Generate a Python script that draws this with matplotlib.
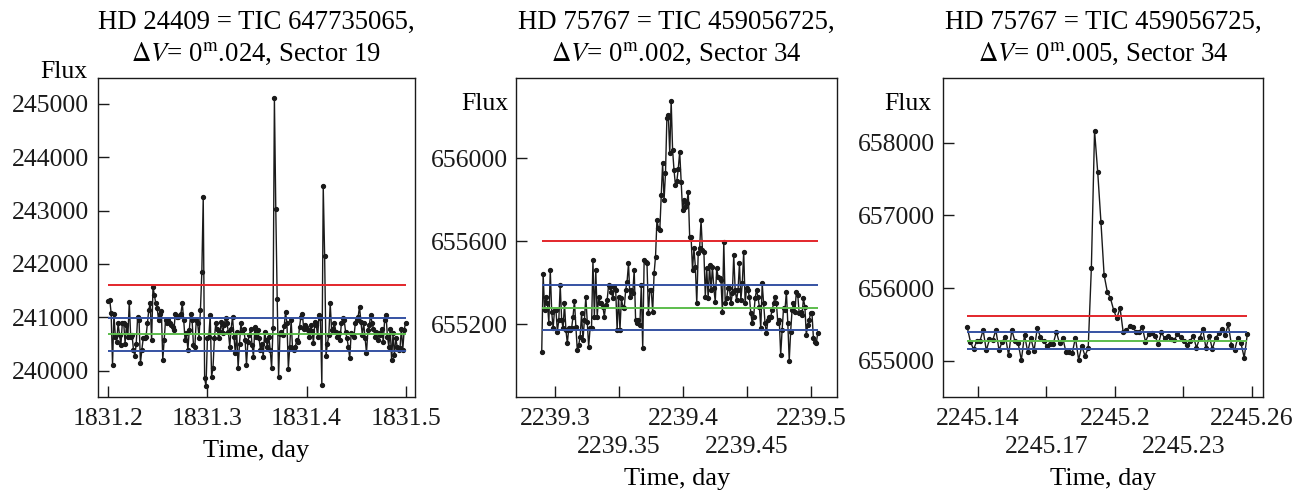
import matplotlib
matplotlib.use("Agg")
import matplotlib.pyplot as plt
import numpy as np

plt.rcParams["font.family"] = ["Liberation Serif", "DejaVu Serif"]
plt.rcParams["mathtext.fontset"] = "stix"

# --- Panel 1: HD 24409, Sector 19 ---
t1_range = (1831.2007, 1831.4995)
flux1 = [
    241310, 241330, 241080, 240110, 241060, 240640, 240540, 240890, 240670, 240480,
    240890, 240900, 240510, 240860, 240640, 241290, 240640, 240670, 240390, 240280,
    240510, 241010, 240950, 240140, 240390, 240610, 240610, 240640, 240890, 241140,
    241260, 240570, 241570, 241420, 241260, 241170, 240950, 241070, 241110, 240200,
    240570, 240950, 240890, 240950, 240900, 240860, 240820, 240760, 241070, 241010,
    241010, 241040, 241070, 241260, 240950, 240570, 240700, 240390, 240760, 241070,
    240950, 240480, 240450, 240950, 240890, 240620, 241140, 241850, 243250, 239860,
    239710, 240610, 240640, 241040, 239890, 240050, 240610, 240890, 240790, 240610,
    240730, 240920, 240700, 240860, 240980, 240890, 240730, 240450, 240790, 241010,
    240640, 240330, 240730, 240050, 240510, 240890, 240730, 240790, 240580, 240110,
    240540, 240670, 240790, 240480, 240260, 240820, 240640, 240760, 240610, 240390,
    240510, 240260, 240730, 240570, 240450, 240640, 240390, 240050, 240800, 245100,
    243020, 241350, 239890, 240690, 240730, 240670, 240830, 241100, 240890, 240040,
    240450, 240950, 240420, 240390, 240450, 240570, 240540, 240820, 241010, 241070,
    240790, 240860, 240820, 240760, 240640, 240860, 240740, 240520, 240910, 240860,
    240640, 241040, 240980, 239730, 243450, 242150, 240280, 240510, 240670, 241260,
    240760, 240790, 240890, 240730, 240640, 240700, 240570, 240890, 240980, 240950,
    240730, 240610, 240450, 240230, 240700, 240670, 240640, 240890, 240950, 241010,
    241200, 240920, 240670, 240890, 240610, 240330, 240760, 240860, 241040, 240890,
    240790, 240640, 240730, 240580, 240700, 240670, 240790, 240540, 240950, 241040,
    240640, 240450, 240790, 240200, 240700, 240290, 240610, 240450, 240390, 240420,
    240790, 240390, 240760, 240900,
]
levels1 = [241600, 240980, 240680, 240370]
xticks1 = [1831.2, 1831.3, 1831.4, 1831.5]
xlabels1 = ["1831.2", "1831.3", "1831.4", "1831.5"]
xminor1 = []
xminlabels1 = []
yticks1 = [240000, 241000, 242000, 243000, 244000, 245000]

# --- Panel 2: HD 75767, Sector 34 ---
t2_range = (2239.2896, 2239.5052)
flux2 = [
    655067, 655441, 655268, 655332, 655300, 655204, 655461, 655260, 655180, 655268,
    655268, 655164, 655220, 655388, 655220, 655180, 655300, 655172, 655107, 655180,
    655172, 655180, 655236, 655313, 655188, 655075, 655099, 655140, 655252, 655124,
    655220, 655332, 655212, 655091, 655180, 655180, 655509, 655236, 655461, 655236,
    655332, 655300, 655300, 655284, 655236, 655292, 655316, 655388, 655380, 655356,
    655324, 655380, 655364, 655172, 655332, 655172, 655324, 655284, 655276, 655364,
    655405, 655493, 655332, 655364, 655348, 655461, 655220, 655204, 655220, 655196,
    655388, 655083, 655509, 655501, 655493, 655252, 655364, 655364, 655260, 655445,
    655525, 655702, 655662, 655654, 655822, 655978, 655798, 655927, 656196, 656208,
    656023, 656277,
    656039, 655943, 655870, 655890, 655950, 656031, 655886, 655750, 655798, 655766,
    655782, 655838, 655621, 655621, 655461, 655565, 655477, 655300, 655541, 655565,
    655702, 655557, 655549, 655332, 655469, 655324, 655485, 655364, 655477, 655372,
    655308, 655469, 655429, 655421, 655413, 655260, 655597, 655300, 655324, 655372,
    655372, 655300, 655348, 655533, 655364, 655316, 655364, 655493, 655316, 655396,
    655549, 655300, 655372, 655364, 655332, 655252, 655204, 655236, 655324, 655364,
    655332, 655284, 655180, 655396, 655300, 655204, 655156, 655220, 655236, 655236,
    655268, 655300, 655332, 655300, 655204, 655220, 655051, 655172, 655276, 655268,
    655356, 655204, 655024, 655164, 655268, 655300, 655260, 655356, 655340, 655252,
    655260, 655244, 655324, 655284, 655148, 655196, 655220, 655252, 655252, 655132,
    655116, 655107, 655156,
]
levels2 = [655603, 655388, 655280, 655172]
xticks2 = [2239.3, 2239.4, 2239.5]
xlabels2 = ["2239.3", "2239.4", "2239.5"]
xminor2 = [2239.35, 2239.45]
xminlabels2 = ["2239.35", "2239.45"]
yticks2 = [655200, 655600, 656000]

# --- Panel 3: HD 75767, Sector 34 ---
t3_range = (2245.1353, 2245.2581)
flux3 = [
    655464, 655262, 655156, 655271, 655271, 655422, 655143, 655294, 655280, 655422,
    655147, 655262, 655331, 655078, 655422, 655271, 655239, 655010, 655354, 655124,
    655308, 655138, 655445, 655331, 655271, 655207, 655230, 655230, 655400, 655239,
    655317, 655124, 655124, 655110, 655317, 655014, 655202, 655069, 655170, 656280,
    658164, 657591, 656912, 656179, 655950, 655858, 655697, 655583, 655729, 655390,
    655422, 655473, 655459, 655400, 655400, 655459, 655262, 655363, 655377, 655344,
    655225, 655390, 655308, 655344, 655294, 655285, 655363, 655331, 655271, 655216,
    655271, 655344, 655179, 655308, 655431, 655170, 655344, 655161, 655308, 655377,
    655436, 655354, 655500, 655216, 655147, 655317, 655239, 655042, 655370,
]
levels3 = [655620, 655393, 655276, 655162]
xticks3 = [2245.14, 2245.2, 2245.26]
xlabels3 = ["2245.14", "2245.2", "2245.26"]
xminor3 = [2245.17, 2245.23]
xminlabels3 = ["2245.17", "2245.23"]
yticks3 = [655000, 656000, 657000, 658000]

titles = [
    "HD 24409 = TIC 647735065,\n$\\Delta V$= 0$^{\\rm m}$.024, Sector 19",
    "HD 75767 = TIC 459056725,\n$\\Delta V$= 0$^{\\rm m}$.002, Sector 34",
    "HD 75767 = TIC 459056725,\n$\\Delta V$= 0$^{\\rm m}$.005, Sector 34",
]
level_colors = ["#e3262b", "#3552a3", "#5cbd4c", "#3552a3"]

fig = plt.figure(figsize=(13.15, 4.91), dpi=100)
ax1 = fig.add_axes([0.0743, 0.1914, 0.2413, 0.6497])
ax2 = fig.add_axes([0.3924, 0.1908, 0.2443, 0.6509])
ax3 = fig.add_axes([0.7173, 0.1908, 0.2429, 0.6509])

panels = [
    (ax1, t1_range, flux1, levels1, xticks1, xlabels1, xminor1, xminlabels1, yticks1,
     (1831.19, 1831.509), (239508, 245481), (-0.034, 1.02)),
    (ax2, t2_range, flux2, levels2, xticks2, xlabels2, xminor2, xminlabels2, yticks2,
     (2239.2695, 2239.5205), (654847, 656388), (-0.024, 0.919)),
    (ax3, t3_range, flux3, levels3, xticks3, xlabels3, xminor3, xminlabels3, yticks3,
     (2245.1248, 2245.2648), (654497, 658894), (-0.036, 0.919)),
]

for i, (ax, tr, flux, levels, xt, xl, xm, xml, yt, xlim, ylim, fpos) in enumerate(panels):
    t = np.linspace(tr[0], tr[1], len(flux))
    ax.plot(t, flux, color="#1a1a1a", lw=1.0, marker="o", ms=2.8, zorder=2)
    for lev, c in zip(levels, level_colors):
        ax.hlines(lev, t[0], t[-1], colors=c, lw=1.4, zorder=3)
    ax.set_xlim(*xlim)
    ax.set_ylim(*ylim)
    ax.set_xticks(xt)
    ax.set_xticklabels(xl)
    ax.set_xticks(xm, minor=True)
    ax.set_xticklabels(xml, minor=True)
    ax.set_yticks(yt)
    ax.set_yticklabels([str(v) for v in yt])
    ax.tick_params(axis="both", which="both", direction="in", length=8, width=1.0,
                   labelsize=18.5, top=False, right=False, colors="#1a1a1a")
    ax.tick_params(axis="x", which="major", pad=8)
    ax.tick_params(axis="x", which="minor", pad=28)
    ax.tick_params(axis="y", pad=6)
    for s in ax.spines.values():
        s.set_linewidth(1.0)
        s.set_color("#1a1a1a")
    ax.set_title(titles[i], fontsize=19.3, pad=12, linespacing=1.3)
    ax.set_xlabel("Time, day", fontsize=19, labelpad=7)
    ax.text(fpos[0], fpos[1], "Flux", transform=ax.transAxes, ha="right",
            va="center", fontsize=18.5)

fig.savefig("out.png", dpi=100)
